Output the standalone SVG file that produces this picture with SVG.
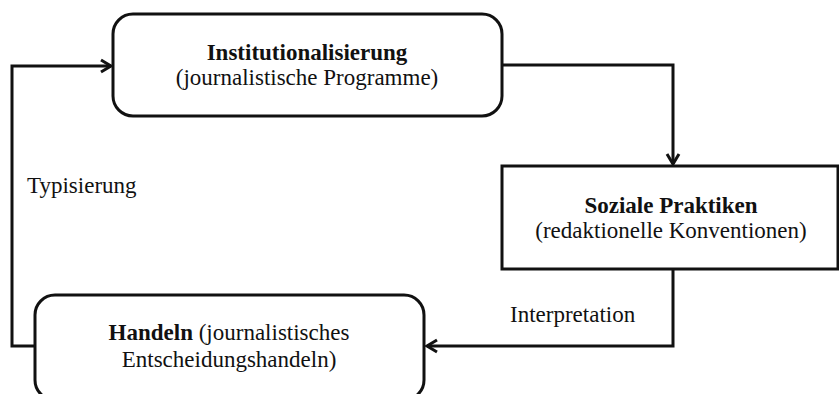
<svg xmlns="http://www.w3.org/2000/svg" width="839" height="394" viewBox="0 0 839 394">
<style>
.box{fill:#fff;stroke:#111;stroke-width:3}
.conn{fill:none;stroke:#111;stroke-width:3}
.t{font-family:"Liberation Serif","Times New Roman",serif;font-size:23px;fill:#111}
.b{font-weight:bold}
</style>
<defs>
<marker id="arr" markerUnits="userSpaceOnUse" markerWidth="14" markerHeight="16" refX="11" refY="7" orient="auto" viewBox="0 0 14 14">
<path d="M1,1 L11,7 L1,13" fill="none" stroke="#111" stroke-width="3"/>
</marker>
</defs>
<g id="connectors">
<path class="conn" d="M502,65 H673 V164" marker-end="url(#arr)"/>
<path class="conn" d="M673,269 V346 H427" marker-end="url(#arr)"/>
<path class="conn" d="M35,346 H12 V66 H111" marker-end="url(#arr)"/>
<text class="t" x="27" y="193">Typisierung</text>
<text class="t" x="510" y="322">Interpretation</text>
</g>
<g id="institutionalisierung">
<rect class="box" x="113" y="14" width="389" height="102" rx="20"/>
<text class="t b" x="307" y="60" text-anchor="middle">Institutionalisierung</text>
<text class="t" x="307" y="85" text-anchor="middle">(journalistische Programme)</text>
</g>
<g id="soziale-praktiken">
<rect class="box" x="502" y="166" width="336" height="103"/>
<text class="t b" x="671" y="213" text-anchor="middle">Soziale Praktiken</text>
<text class="t" x="671" y="238" text-anchor="middle">(redaktionelle Konventionen)</text>
</g>
<g id="handeln">
<rect class="box" x="35" y="295" width="389" height="105" rx="20"/>
<text class="t" x="229" y="340" text-anchor="middle"><tspan class="b">Handeln</tspan> (journalistisches</text>
<text class="t" x="229" y="367" text-anchor="middle">Entscheidungshandeln)</text>
</g>
</svg>
